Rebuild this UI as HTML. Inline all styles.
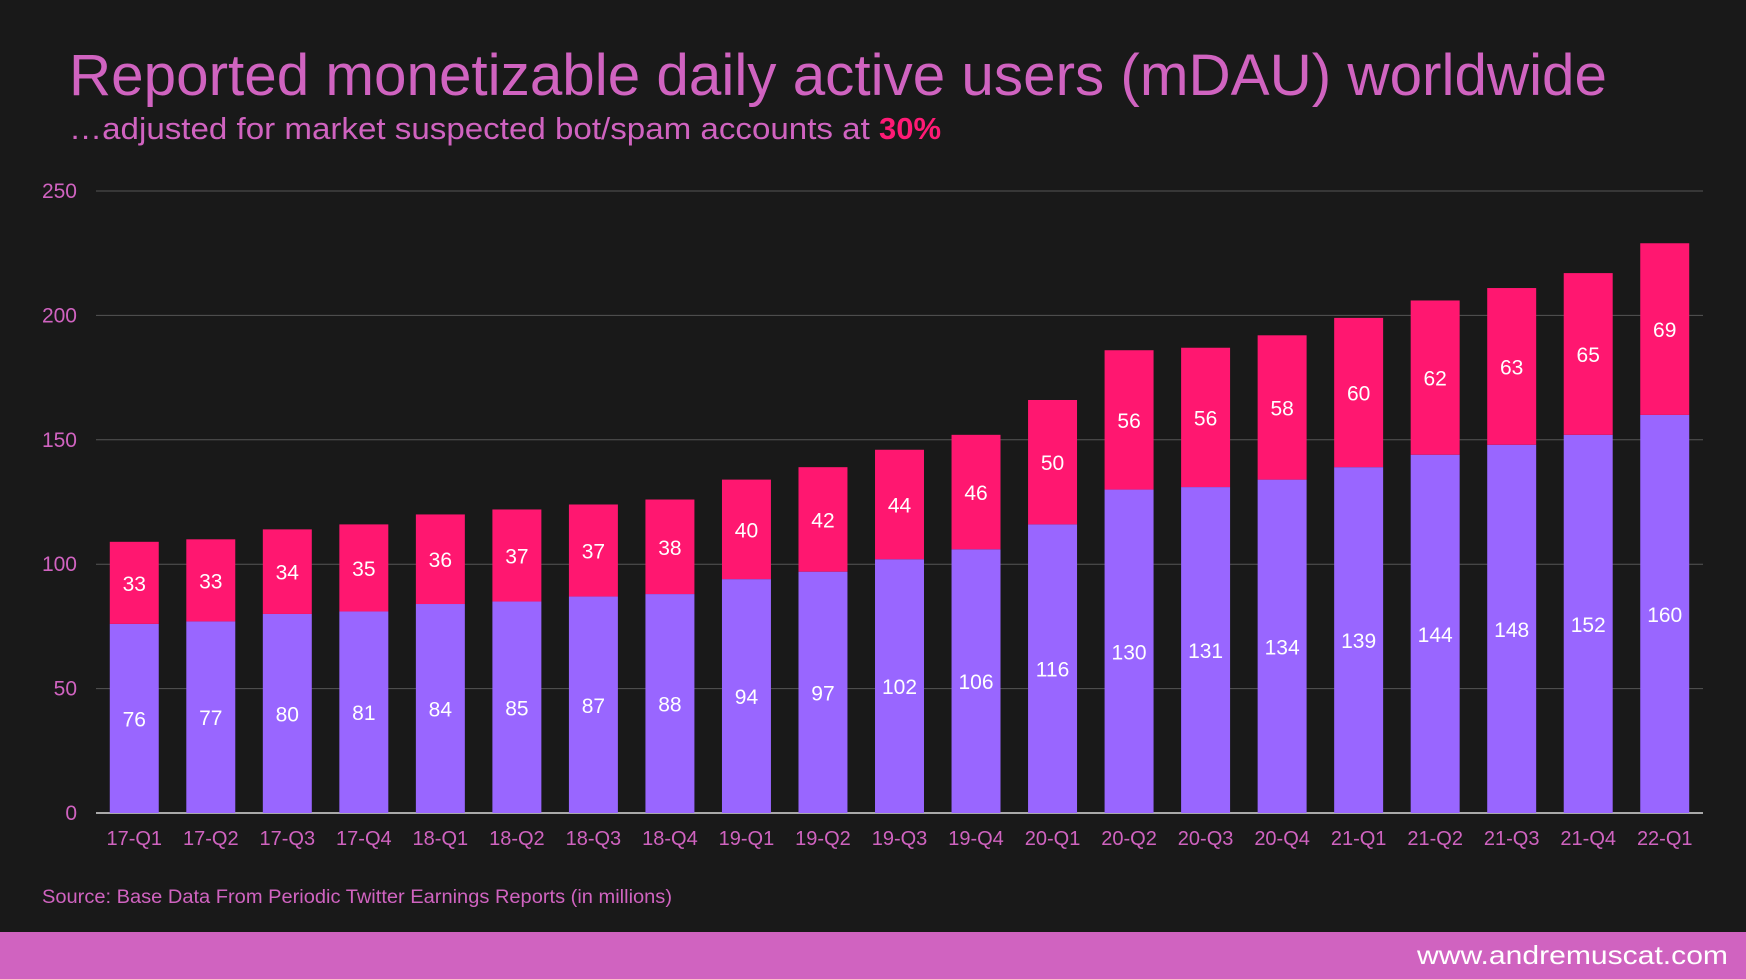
<!DOCTYPE html>
<html><head><meta charset="utf-8"><style>
html,body{margin:0;padding:0;background:#191919;}
svg{display:block;font-family:"Liberation Sans",sans-serif;}
</style></head><body>
<svg width="1746" height="979" viewBox="0 0 1746 979">
<rect x="0" y="0" width="1746" height="979" fill="#191919"/>
<text x="69" y="95" font-size="58" fill="#d063c0" textLength="1538" lengthAdjust="spacingAndGlyphs">Reported monetizable daily active users (mDAU) worldwide</text>
<text x="69" y="139" font-size="31" fill="#d063c0"><tspan textLength="810" lengthAdjust="spacingAndGlyphs">…adjusted for market suspected bot/spam accounts at </tspan><tspan font-weight="bold" fill="#ff1a75">30%</tspan></text>
<g id="grid"></g>
<g id="bars"></g>
<g id="xlabels"></g>
<text x="42" y="903" font-size="19" fill="#d063c0" textLength="630" lengthAdjust="spacingAndGlyphs">Source: Base Data From Periodic Twitter Earnings Reports (in millions)</text>
<rect x="0" y="932" width="1746" height="47" fill="#d063c0"/>
<text x="1728" y="964" font-size="26" fill="#ffffff" text-anchor="end" textLength="311" lengthAdjust="spacingAndGlyphs">www.andremuscat.com</text>
</svg>
<script>
const categories=["17-Q1","17-Q2","17-Q3","17-Q4","18-Q1","18-Q2","18-Q3","18-Q4","19-Q1","19-Q2","19-Q3","19-Q4","20-Q1","20-Q2","20-Q3","20-Q4","21-Q1","21-Q2","21-Q3","21-Q4","22-Q1"];
const adjustedUsers=[76,77,80,81,84,85,87,88,94,97,102,106,116,130,131,134,139,144,148,152,160];
const botAccounts=[33,33,34,35,36,37,37,38,40,42,44,46,50,56,56,58,60,62,63,65,69];
const yTicks=[0,50,100,150,200,250];

const NS="http://www.w3.org/2000/svg";
const plotL=96,plotR=1703,y0=813,pxPerUnit=2.488;
const band=(plotR-plotL)/categories.length, barW=band*0.64;
function yScale(v){return y0-v*pxPerUnit;}
function xCenter(i){return plotL+band*(i+0.5);}
function mk(tag,attrs,parent){const e=document.createElementNS(NS,tag);for(const k in attrs)e.setAttribute(k,attrs[k]);parent.appendChild(e);return e;}
const grid=document.getElementById('grid'),bars=document.getElementById('bars'),xl=document.getElementById('xlabels');
yTicks.forEach(t=>{
  const y=yScale(t);
  const l=mk('line',{x1:plotL,x2:plotR,y1:y,y2:y,stroke:t===0?'#d9d9d9':'#555',"stroke-width":t===0?1.5:1},grid);
  
  
  const tx=mk('text',{x:77,y:y+7,"font-size":21,fill:'#d063c0',"text-anchor":'end'},grid);
  tx.textContent=t;
  
  
});
categories.forEach((c,i)=>{
  const cx=xCenter(i),x=cx-barW/2;
  const a=adjustedUsers[i],b=botAccounts[i];
  const r1=mk('rect',{x:x,y:yScale(a),width:barW,height:a*pxPerUnit,fill:'#9966ff'},bars);
  
  
  const r2=mk('rect',{x:x,y:yScale(a+b),width:barW,height:b*pxPerUnit,fill:'#ff1770'},bars);
  
  
  const t1=mk('text',{x:cx,y:yScale(a/2)+8,"font-size":21,fill:'#fff',"text-anchor":'middle'},bars);
  t1.textContent=a;
  
  
  const t2=mk('text',{x:cx,y:yScale(a+b/2)+8,"font-size":21,fill:'#fff',"text-anchor":'middle'},bars);
  t2.textContent=b;
  
  
  const t3=mk('text',{x:cx,y:845,"font-size":20,fill:'#d063c0',"text-anchor":'middle'},xl);
  t3.textContent=c;
  
  
});
</script>
</body></html>
